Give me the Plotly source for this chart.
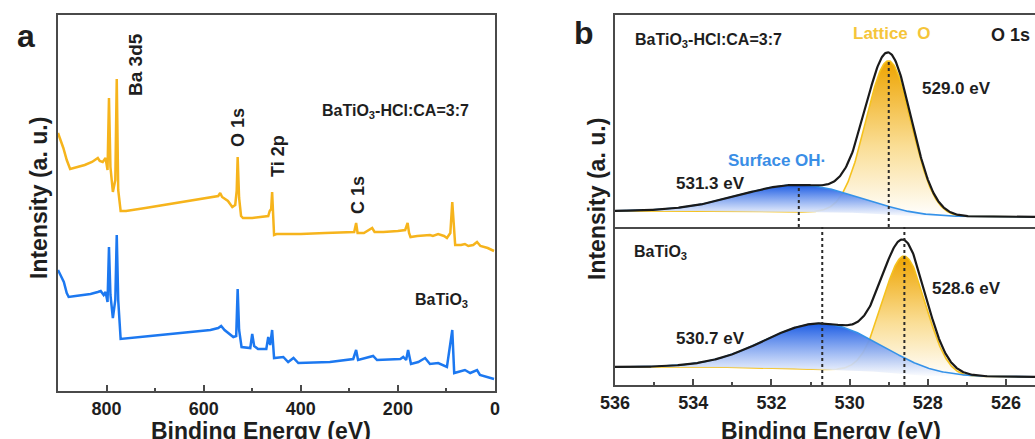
import numpy as np
import plotly.graph_objects as go

W, H = 1035, 439
FONT = "Liberation Sans, Arial, sans-serif"

# ---------------- survey spectra (binding energy in eV, intensity in a.u.) ----------------
survey_ev_treated = [900, 896, 889, 882, 875, 860, 845, 830, 818, 814, 808, 802, 798, 795, 792,
                     787, 782, 779, 776, 771, 760, 720, 680, 640, 600, 570, 566, 562, 550, 541,
                     535, 532, 530, 527, 523, 519, 500, 480, 467, 464, 461, 459, 457, 455, 450,
                     400, 350, 300, 290, 286, 283, 270, 253, 248, 230, 200, 185, 180, 177, 174,
                     160, 134, 128, 117, 105, 99, 92, 88, 85, 82, 70, 62, 55, 45, 37, 30, 15, 2]
survey_int_treated = [258, 253, 243, 231, 222, 224, 226, 229, 233, 230, 229, 233, 221, 293, 224,
                      199, 211, 312, 201, 180, 180, 183, 186, 189, 192, 195, 198, 194, 190, 184,
                      186, 200, 234, 193, 175, 173, 173, 174, 175, 180, 182, 199, 178, 156, 157,
                      157, 158, 159, 159, 168, 158, 158, 163, 159, 159, 160, 161, 168, 158, 154,
                      155, 156, 155, 157, 155, 153, 158, 189, 160, 146, 146, 147, 145, 146, 149,
                      145, 143, 140]

survey_ev_pristine = [900, 895, 888, 882, 878, 864, 833, 818, 812, 806, 802, 798, 795, 792, 787,
                      782, 779, 776, 771, 710, 648, 586, 570, 564, 557, 539, 533, 530, 527, 522,
                      504, 500, 496, 488, 471, 467, 463, 459, 455, 436, 426, 415, 405, 340, 292,
                      286, 282, 251, 243, 195, 189, 183, 179, 173, 158, 144, 134, 117, 99, 88,
                      84, 62, 51, 37, 31, 2]
survey_int_pristine = [121, 116, 109, 98, 94, 95, 97, 99, 100, 96, 99, 89, 144, 96, 73,
                       91, 156, 91, 52, 55, 58, 61, 63, 65, 61, 54, 55, 102, 61, 44,
                       43, 57, 45, 42, 42, 54, 46, 61, 33, 34, 29, 33, 28, 29, 32,
                       41, 31, 35, 31, 32, 34, 31, 41, 27, 29, 33, 27, 28, 24, 61,
                       18, 21, 18, 21, 16, 12]

survey_peaks = ["Ba 3d5", "O 1s", "Ti 2p", "C 1s"]

# ---------------- O 1s peak fitting results (upper: treated, lower: pristine) ----------------
o1s_samples = ["BaTiO<sub>3</sub>-HCl:CA=3:7", "BaTiO<sub>3</sub>"]
oh_center = [531.3, 530.7]
oh_height = [27, 46]
oh_sigma = [1.5, 1.45]
lat_center = [529.0, 528.6]
lat_height = [154, 118]
lat_sigma = [0.58, 0.55]
bg_high = [16, 18]
bg_low = [10, 8]

o1s_ticks = [536, 534, 532, 530, 528, 526]
o1s_minor = [535, 533, 531, 529, 527]
survey_ticks = [800, 600, 400, 200, 0]
survey_minor = [700, 500, 300, 100]

YELLOW = "#F6B41C"
BLUE = "#1C78F0"
AX = "#4a4a4a"
TXT = "#1e1e1e"


def fx(px):
    return px / W


def fy(py):
    return 1 - py / H


fig = go.Figure()

# ---- panel a: survey ----
fig.add_trace(go.Scatter(x=survey_ev_treated, y=survey_int_treated, mode="lines",
                         line=dict(color=YELLOW, width=2.5), xaxis="x", yaxis="y",
                         showlegend=False, hoverinfo="skip"))
fig.add_trace(go.Scatter(x=survey_ev_pristine, y=survey_int_pristine, mode="lines",
                         line=dict(color=BLUE, width=2.5), xaxis="x", yaxis="y",
                         showlegend=False, hoverinfo="skip"))

# ---- panel b: O 1s fits ----
energy = np.linspace(525.0, 536.0, 661)
for i, (xa, ya) in enumerate([("x2", "y2"), ("x3", "y3")]):
    oh = oh_height[i] * np.exp(-(energy - oh_center[i]) ** 2 / (2 * oh_sigma[i] ** 2))
    lat = lat_height[i] * np.exp(-(energy - lat_center[i]) ** 2 / (2 * lat_sigma[i] ** 2))
    peaks = oh + lat
    cum = np.cumsum(peaks)
    bg = bg_low[i] + (bg_high[i] - bg_low[i]) * cum / cum[-1]

    # lattice oxygen component
    fig.add_trace(go.Scatter(x=energy, y=bg, mode="lines", line=dict(width=0),
                             xaxis=xa, yaxis=ya, showlegend=False, hoverinfo="skip"))
    fig.add_trace(go.Scatter(x=energy, y=bg + lat, mode="lines", fill="tonexty",
                             fillgradient=dict(type="vertical",
                                               colorscale=[[0, "rgba(255,255,255,1)"],
                                                           [0.45, "rgb(250,222,150)"],
                                                           [1, "rgb(238,164,0)"]]),
                             line=dict(color="#F5C21E", width=1.6),
                             xaxis=xa, yaxis=ya, showlegend=False, hoverinfo="skip"))
    # surface hydroxyl component
    fig.add_trace(go.Scatter(x=energy, y=bg, mode="lines", line=dict(width=0),
                             xaxis=xa, yaxis=ya, showlegend=False, hoverinfo="skip"))
    fig.add_trace(go.Scatter(x=energy, y=bg + oh, mode="lines", fill="tonexty",
                             fillgradient=dict(type="vertical",
                                               colorscale=[[0, "rgba(255,255,255,0.88)"],
                                                           [1, "rgb(28,92,228)"]]),
                             line=dict(color="#3592E8", width=1.6),
                             xaxis=xa, yaxis=ya, showlegend=False, hoverinfo="skip"))
    # envelope
    fig.add_trace(go.Scatter(x=energy, y=bg + peaks, mode="lines",
                             line=dict(color="#1a1a1a", width=2.2),
                             xaxis=xa, yaxis=ya, showlegend=False, hoverinfo="skip"))

    # peak position markers
    for c in (oh_center[i], lat_center[i]):
        if i == 0:
            k = int(np.argmin(np.abs(energy - c)))
            top = (bg + (oh if c == oh_center[i] else lat))[k]
        else:
            top = 158
        fig.add_trace(go.Scatter(x=[c, c], y=[0, top], mode="lines",
                                 line=dict(color="#2a2a2a", width=2, dash="3px,3px"),
                                 xaxis=xa, yaxis=ya, showlegend=False, hoverinfo="skip"))

tickfont = dict(family=FONT, size=18, color=TXT, weight="bold")
axis_common = dict(showline=True, linecolor=AX, linewidth=2, showgrid=False, zeroline=False,
                   automargin=False)

fig.update_layout(
    template="none",
    width=W, height=H, autosize=False,
    margin=dict(l=0, r=0, t=0, b=0, pad=0),
    paper_bgcolor="white", plot_bgcolor="white",
    xaxis=dict(domain=[fx(58), fx(495)], range=[900, 0], anchor="y", mirror=True,
               ticks="inside", ticklen=6, tickwidth=2, tickcolor=AX,
               tickvals=survey_ticks, tickfont=tickfont,
               minor=dict(ticks="inside", ticklen=3, tickwidth=1.5, tickcolor=AX,
                          tickvals=survey_minor),
               **axis_common),
    yaxis=dict(domain=[fy(391), fy(15)], range=[0, 376], anchor="x", mirror=True,
               showticklabels=False, ticks="", **axis_common),
    xaxis2=dict(domain=[fx(615), 1.0], range=[536, 525.26], anchor="y2", mirror=True,
                ticks="", showticklabels=False, **axis_common),
    yaxis2=dict(domain=[fy(227), fy(15)], range=[0, 212], anchor="x2",
                showticklabels=False, ticks="", **axis_common),
    xaxis3=dict(domain=[fx(615), 1.0], range=[536, 525.26], anchor="y3", mirror=False,
                ticks="inside", ticklen=6, tickwidth=2, tickcolor=AX,
                tickvals=o1s_ticks, tickfont=tickfont,
                minor=dict(ticks="inside", ticklen=3, tickwidth=1.5, tickcolor=AX,
                           tickvals=o1s_minor),
                **axis_common),
    yaxis3=dict(domain=[fy(385), fy(227)], range=[0, 158], anchor="x3",
                showticklabels=False, ticks="", **axis_common),
)


def label(text, px, py, size=18, color=TXT, angle=0):
    fig.add_annotation(text=text, x=fx(px), y=fy(py), xref="paper", yref="paper",
                       xanchor="center", yanchor="middle", showarrow=False, textangle=angle,
                       font=dict(family=FONT, size=size, color=color, weight="bold"))


# panel letters
label("a", 26, 36, size=32)
label("b", 584, 33, size=32)

# panel a texts
for name, (px, py), sz in zip(survey_peaks, [(136, 65), (238, 128), (278, 156), (358, 195)],
                              [19, 18, 18, 18]):
    label(name, px, py, size=sz, angle=-90)
label(o1s_samples[0], 395, 112, size=16)
label(o1s_samples[1], 441, 300, size=16)
label("Intensity (a. u.)", 39, 198, size=23, angle=-90)
label("Binding Energy (eV)", 261, 431, size=23)

# panel b texts
label("Intensity (a. u.)", 597, 199, size=23, angle=-90)
label("Binding Energy (eV)", 831, 431, size=23)
label(o1s_samples[0], 708, 40, size=16)
label(o1s_samples[1], 660, 252, size=16)
label("Lattice  O", 891, 33, size=17, color="#F5C53A")
label("O 1s", 1010, 35, size=18)
label("Surface OH·", 777, 160, size=17, color="#3A8EE6")
label(f"{lat_center[0]:.1f} eV", 956, 88, size=17)
label(f"{oh_center[0]:.1f} eV", 710, 183, size=17)
label(f"{oh_center[1]:.1f} eV", 710, 338, size=17)
label(f"{lat_center[1]:.1f} eV", 966, 288, size=17)

fig.write_html("out.html")
